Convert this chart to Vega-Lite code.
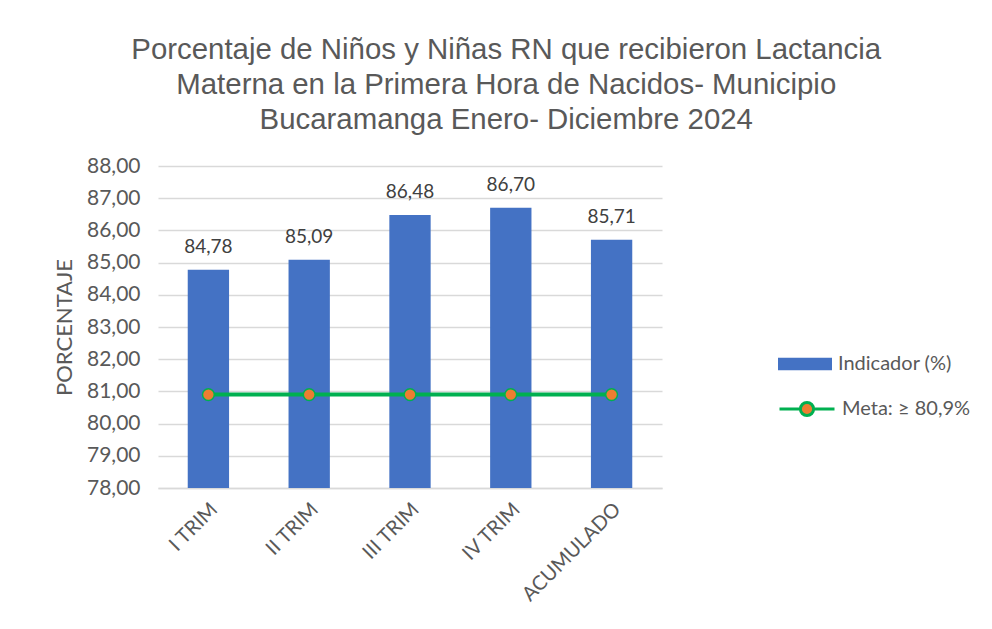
{
  "$schema": "https://vega.github.io/schema/vega-lite/v6.json",
  "width": 504,
  "height": 322,
  "padding": {"left": 53, "top": 34, "right": 5, "bottom": 5},
  "background": "white",
  "title": {
    "text": ["Porcentaje de Niños y Niñas RN que recibieron Lactancia", "Materna en la Primera Hora de Nacidos- Municipio", "Bucaramanga Enero- Diciembre 2024"],
    "font": "Liberation Sans",
    "fontSize": 29.4,
    "fontWeight": "normal",
    "color": "#595959",
    "lineHeight": 35,
    "anchor": "middle",
    "frame": "bounds",
    "dx": -6,
    "offset": 20
  },
  "config": {
    "locale": {"number": {"decimal": ",", "thousands": ".", "grouping": [3], "currency": ["$", ""]}},
    "view": {"stroke": null},
    "axisY": {
      "titleFont": "Lato",
      "titleFontSize": 22,
      "titleFontWeight": "normal",
      "titleColor": "#595959",
      "titlePadding": 10,
      "labelFont": "Lato",
      "labelFontSize": 21,
      "labelColor": "#595959",
      "labelPadding": 18,
      "labelOverlap": false,
      "ticks": false,
      "domain": false,
      "gridColor": "#D9D9D9",
      "gridWidth": 1.3
    }
  },
  "data": {
    "values": [
      {"periodo": "I TRIM", "indicador": 84.78, "meta": 80.9},
      {"periodo": "II TRIM", "indicador": 85.09, "meta": 80.9},
      {"periodo": "III TRIM", "indicador": 86.48, "meta": 80.9},
      {"periodo": "IV TRIM", "indicador": 86.70, "meta": 80.9},
      {"periodo": "ACUMULADO", "indicador": 85.71, "meta": 80.9}
    ]
  },
  "encoding": {
    "x": {
      "field": "periodo",
      "type": "nominal",
      "sort": null,
      "scale": {"paddingInner": 0.59, "paddingOuter": 0.295},
      "axis": {
        "title": null,
        "labelAngle": -45,
        "labelAlign": "right",
        "labelBaseline": "middle",
        "labelFont": "Lato",
        "labelFontSize": 20,
        "labelColor": "#595959",
        "labelPadding": 18,
        "labelOffset": 6,
        "ticks": false,
        "domain": true,
        "domainColor": "#D9D9D9",
        "domainWidth": 1.3,
        "grid": false
      }
    }
  },
  "layer": [
    {
      "mark": {"type": "bar"},
      "encoding": {
        "y": {
          "field": "indicador",
          "type": "quantitative",
          "scale": {"domain": [78, 88], "zero": false, "nice": false},
          "axis": {"title": "PORCENTAJE", "values": [78, 79, 80, 81, 82, 83, 84, 85, 86, 87, 88], "format": ".2f"}
        },
        "y2": {"datum": 78},
        "fill": {
          "datum": "Indicador (%)",
          "type": "nominal",
          "scale": {"range": ["#4472C4"]},
          "legend": {
            "title": null,
            "orient": "none",
            "legendX": 620,
            "legendY": 171,
            "symbolType": "M-1,-0.23H1V0.23H-1Z",
            "symbolSize": 2916,
            "symbolStrokeWidth": 0,
            "labelFont": "Lato",
            "labelFontSize": 20,
            "labelColor": "#595959",
            "labelOffset": 6
          }
        }
      }
    },
    {
      "mark": {"type": "text", "font": "Lato", "fontSize": 19, "color": "#404040", "baseline": "alphabetic", "dy": -17},
      "encoding": {
        "y": {"field": "indicador", "type": "quantitative", "axis": {"title": "PORCENTAJE", "values": [78, 79, 80, 81, 82, 83, 84, 85, 86, 87, 88], "format": ".2f"}},
        "text": {"field": "indicador", "type": "quantitative", "format": ".2f"}
      }
    },
    {
      "mark": {"type": "line", "strokeWidth": 4},
      "encoding": {
        "y": {"field": "meta", "type": "quantitative", "axis": {"title": "PORCENTAJE", "values": [78, 79, 80, 81, 82, 83, 84, 85, 86, 87, 88], "format": ".2f"}},
        "stroke": {
          "datum": "Meta: ≥ 80,9%",
          "type": "nominal",
          "scale": {"range": ["#00B050"]},
          "legend": {
            "title": null,
            "orient": "none",
            "legendX": 620,
            "legendY": 214,
            "symbolType": "M-1,0H-0.24M0.24,0H1M0.24,0A0.24,0.24,0,1,1,-0.24,0A0.24,0.24,0,1,1,0.24,0Z",
            "symbolSize": 3025,
            "labelFont": "Lato",
            "labelFontSize": 20,
            "labelColor": "#595959",
            "labelOffset": 6,
            "encode": {"symbols": {"update": {"fill": {"value": "#ED7D31"}, "stroke": {"value": "#00B050"}, "strokeWidth": {"value": 3}, "opacity": {"value": 1}}}}
          }
        }
      }
    },
    {
      "mark": {"type": "point", "filled": true, "fill": "#ED7D31", "stroke": "#00B050", "strokeWidth": 1.5, "size": 140, "opacity": 1},
      "encoding": {
        "y": {"field": "meta", "type": "quantitative", "axis": {"title": "PORCENTAJE", "values": [78, 79, 80, 81, 82, 83, 84, 85, 86, 87, 88], "format": ".2f"}}
      }
    }
  ]
}
